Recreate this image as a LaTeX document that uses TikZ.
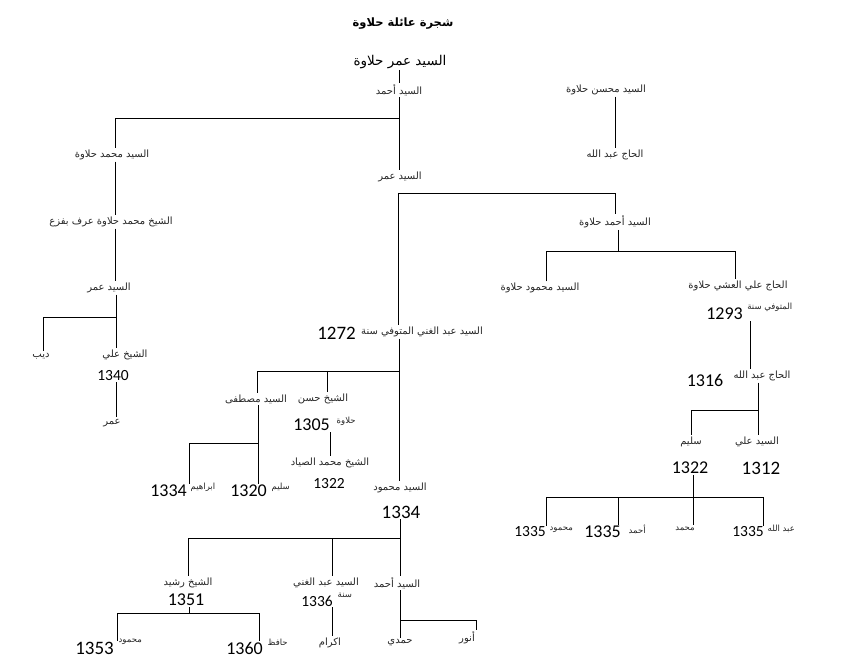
\documentclass[tikz,border=0pt]{standalone}
\usepackage{fontspec}
\TeXXeTstate=1
\newfontfamily\arfont[Script=Arabic]{DejaVu Sans}
\newfontfamily\arbold[Script=Arabic]{DejaVu Sans Bold}
\newfontfamily\numfont{Carlito}
\newcommand\rtl[1]{\beginR #1\endR}
\begin{document}
\begin{tikzpicture}[x=1pt,y=-1pt,
  ar/.style={font=\arfont\fontsize{10}{11}\selectfont, inner sep=1.5pt, text=black!85},
  sar/.style={font=\arfont\fontsize{8.5}{10}\selectfont, inner sep=1.5pt, text=black!85},
  num/.style={font=\numfont\fontsize{18}{19}\selectfont, inner sep=1pt},
  bnum/.style={font=\numfont\fontsize{19}{20}\selectfont, inner sep=1pt},
  snum/.style={font=\numfont\fontsize{15.5}{16}\selectfont, inner sep=1pt},
  ln/.style={line width=0.7pt, black}]
\useasboundingbox[fill=white] (0,0) rectangle (860,660);
% ---- nodes ----
\node[font=\arbold\fontsize{11.5}{13}\selectfont] (title) at (403,24) {\rtl{شجرة عائلة حلاوة}};
\node[font=\arfont\fontsize{13.5}{15}\selectfont, inner sep=1pt] (root) at (400,62) {\rtl{السيد عمر حلاوة}};
\node[ar] (ahmad) at (399,90) {\rtl{السيد أحمد}};
\node[ar] (muhsin) at (606,90) {\rtl{السيد محسن حلاوة}};
\node[ar] (hajabd) at (615,155) {\rtl{الحاج عبد الله}};
\node[ar] (muhH) at (112,155) {\rtl{السيد محمد حلاوة}};
\node[ar] (shmuh) at (111,222) {\rtl{الشيخ محمد حلاوة عرف بفزع}};
\node[ar] (umarL) at (109,288) {\rtl{السيد عمر}};
\node[ar] (dib) at (41,356) {\rtl{ديب}};
\node[ar] (shali) at (125,355) {\rtl{الشيخ علي}};
\node[snum] (y1340) at (113,376) {1340};
\node[ar] (umarLL) at (112,423) {\rtl{عمر}};
\node[ar] (umarC) at (400,177) {\rtl{السيد عمر}};
\node[ar] (ahmadH) at (615,222) {\rtl{السيد أحمد حلاوة}};
\node[ar] (mahmudH) at (540,288) {\rtl{السيد محمود حلاوة}};
\node[ar] (hajali) at (738,286) {\rtl{الحاج علي العشي حلاوة}};
\node[sar, anchor=east] (mutaw) at (794,307) {\rtl{المتوفي سنة}};
\node[num, anchor=east] (y1293) at (744,314) {1293};
\node[ar] (hajabd2) at (762,376) {\rtl{الحاج عبد الله}};
\node[num] (y1316) at (705,380) {1316};
\node[ar] (salim) at (691,442) {\rtl{سليم}};
\node[ar] (sali) at (757,442) {\rtl{السيد علي}};
\node[num] (y1322r) at (690,468) {1322};
\node[bnum] (y1312) at (761,468) {1312};
\node[snum, anchor=east] (r1335a) at (547,532) {1335};
\node[sar, anchor=west] (mahmudr) at (548,530) {\rtl{محمود}};
\node[num, anchor=east] (r1335b) at (622,532) {1335};
\node[sar, anchor=west] (ahmadr) at (627,529) {\rtl{أحمد}};
\node[sar] (muhr) at (685,529) {\rtl{محمد}};
\node[snum, anchor=east] (r1335c) at (765,532) {1335};
\node[sar, anchor=west] (abdr) at (766,529) {\rtl{عبد الله}};
\node[ar] (abdghani) at (422,332) {\rtl{السيد عبد الغني المتوفي سنة}};
\node[bnum, anchor=east] (y1272) at (357,333) {1272};
\node[ar] (mustafa) at (256,399) {\rtl{السيد مصطفى}};
\node[ar] (hasan) at (323,399) {\rtl{الشيخ حسن}};
\node[num, anchor=east] (y1305) at (331,425) {1305};
\node[sar, anchor=west] (halawa) at (335,421) {\rtl{حلاوة}};
\node[ar] (sayyad) at (330,463) {\rtl{الشيخ محمد الصياد}};
\node[snum] (y1322c) at (329,484) {1322};
\node[ar] (mahmudC) at (400,488) {\rtl{السيد محمود}};
\node[bnum] (y1334c) at (401,512) {1334};
\node[num, anchor=east] (y1334l) at (188,491) {1334};
\node[sar, anchor=west] (ibrahim) at (189,487) {\rtl{ابراهيم}};
\node[num, anchor=east] (y1320) at (268,491) {1320};
\node[sar, anchor=west] (salim2) at (270,487) {\rtl{سليم}};
\node[ar] (rashid) at (188,583) {\rtl{الشيخ رشيد}};
\node[ar] (abdghani2) at (326,583) {\rtl{السيد عبد الغني}};
\node[ar] (ahmad3) at (397,583) {\rtl{السيد أحمد}};
\node[num] (y1351) at (186,600) {1351};
\node[snum, anchor=east] (y1336) at (334,601) {1336};
\node[sar, anchor=west] (sana) at (336,595) {\rtl{سنة}};
\node[bnum, anchor=east] (y1353) at (115,648) {1353};
\node[sar, anchor=west] (mahmud3) at (117,642) {\rtl{محمود}};
\node[num, anchor=east] (y1360) at (264,648) {1360};
\node[sar, anchor=west] (hafiz) at (266,642) {\rtl{حافظ}};
\node[ar] (ikram) at (330,643) {\rtl{اكرام}};
\node[ar] (hamdi) at (400,643) {\rtl{حمدي}};
\node[ar] (anwar) at (467,638) {\rtl{أنور}};
% ---- junctions ----
\coordinate (jA) at (399,118);
\coordinate (jAL) at (115,118);
\coordinate (jL) at (116,317);
\coordinate (jLL) at (43,317);
\coordinate (jC) at (398,193);
\coordinate (jCR) at (615,193);
\coordinate (jH) at (618,251);
\coordinate (jHL) at (546,251);
\coordinate (jHR) at (735,251);
\coordinate (jS) at (758,410);
\coordinate (jSL) at (691,410);
\coordinate (jR) at (693,497);
\coordinate (jR1) at (546,497);
\coordinate (jR2) at (618,497);
\coordinate (jR4) at (763,497);
\coordinate (jG) at (399,371);
\coordinate (jG1) at (257,371);
\coordinate (jG2) at (327,371);
\coordinate (jM) at (258,443);
\coordinate (jM1) at (189,443);
\coordinate (jD) at (400,538);
\coordinate (jD1) at (188,538);
\coordinate (jD2) at (332,538);
\coordinate (jE) at (400,620);
\coordinate (jE1) at (476,620);
\coordinate (jF) at (189,613);
\coordinate (jF1) at (117,613);
\coordinate (jF2) at (259,613);
% ---- connectors ----
\draw[ln] (root.south -| jA) -- (ahmad.north -| jA);
\draw[ln] (ahmad.south -| jA) -- (umarC.north -| jA);
\draw[ln] (jA) -- (jAL) -- (jAL |- muhH.north);
\draw[ln] (muhH.south -| jAL) -- (shmuh.north -| jAL);
\draw[ln] (shmuh.south -| jAL) -- (umarL.north -| jAL);
\draw[ln] (umarL.south -| jL) -- (shali.north -| jL);
\draw[ln] (jL) -- (jLL) -- (jLL |- dib.north);
\draw[ln] (y1340.south -| jL) -- (umarLL.north -| jL);
\draw[ln] (muhsin.south -| jCR) -- (hajabd.north -| jCR);
\draw[ln] (jC) -- (jC |- abdghani.north);
\draw[ln] (jC) -- (jCR) -- (jCR |- ahmadH.north);
\draw[ln] (ahmadH.south -| jH) -- (jH);
\draw[ln] (jHL |- mahmudH.north) -- (jHL) -- (jHR) -- (jHR |- hajali.north);
\draw[ln] (y1293.south -| 750,0) -- (hajabd2.north -| 750,0);
\draw[ln] (hajabd2.south -| jS) -- (jS) -- (jSL) -- (jSL |- salim.north);
\draw[ln] (jS) -- (jS |- sali.north);
\draw[ln] (y1322r.south -| jR) -- (jR);
\draw[ln] (jR1 |- r1335a.north) -- (jR1) -- (jR4) -- (jR4 |- r1335c.north);
\draw[ln] (jR2) -- (jR2 |- r1335b.north);
\draw[ln] (jR) -- (jR |- muhr.north);
\draw[ln] (jG |- abdghani.south) -- (jG |- mahmudC.north);
\draw[ln] (jG) -- (jG1) -- (jG1 |- mustafa.north);
\draw[ln] (jG2) -- (jG2 |- hasan.north);
\draw[ln] (y1305.south -| 330,0) -- (sayyad.north -| 330,0);
\draw[ln] (jM |- mustafa.south) -- (jM |- y1320.north);
\draw[ln] (jM) -- (jM1) -- (jM1 |- y1334l.north);
\draw[ln] (y1334c.south -| jD) -- (jD) -- (jD1) -- (jD1 |- rashid.north);
\draw[ln] (jD) -- (jD |- ahmad3.north);
\draw[ln] (jD2) -- (jD2 |- abdghani2.north);
\draw[ln] (jE |- ahmad3.south) -- (jE |- hamdi.north);
\draw[ln] (jE) -- (jE1) -- (jE1 |- anwar.north);
\draw[ln] (jD2 |- y1336.south) -- (jD2 |- ikram.north);
\draw[ln] (jF |- y1351.south) -- (jF);
\draw[ln] (jF1 |- y1353.north) -- (jF1) -- (jF2) -- (jF2 |- y1360.north);
\end{tikzpicture}
\end{document}
